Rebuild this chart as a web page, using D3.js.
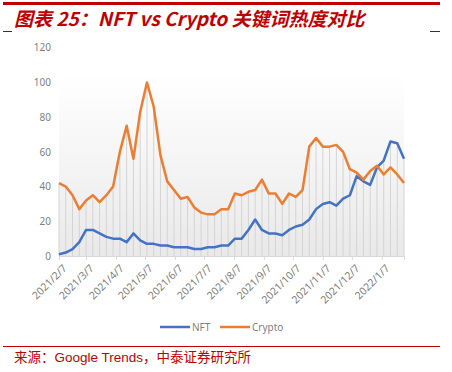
<!DOCTYPE html>
<html><head><meta charset="utf-8">
<script src="https://cdn.jsdelivr.net/npm/d3@7"></script>
<style>
html,body{margin:0;padding:0;background:#fff;}
svg{display:block;}
</style></head>
<body>
<svg id="chart" width="452" height="372"></svg>
<script>
const titleText = "图表 25：NFT vs Crypto 关键词热度对比";
const sourceText = "来源：Google Trends，中泰证券研究所";
const startDate = "2021-02-07";
const weeks = 52;
const nft = [1,2,4,8,15,15,13,11,10,10,8,13,9,7,7,6,6,5,5,5,4,4,5,5,6,6,10,10,15,21,15,13,13,12,15,17,18,21,27,30,31,29,33,35,46,43,41,51,55,66,65,56];
const crypto = [42,40,35,27,32,35,31,35,40,60,75,56,83,100,86,58,43,38,33,34,28,25,24,24,27,27,36,35,37,38,44,36,36,30,36,34,38,63,68,63,63,64,60,50,48,44,49,52,47,51,47,42];
const yTicks = [0,20,40,60,80,100,120];
const xTickDates = ["2021-02-07","2021-03-07","2021-04-07","2021-05-07","2021-06-07","2021-07-07","2021-08-07","2021-09-07","2021-10-07","2021-11-07","2021-12-07","2022-01-07"];
const seriesNames = ["NFT","Crypto"];
const colors = ["#4472c4","#ed7d31"];

const parse = d3.utcParse("%Y-%m-%d");
const d0 = parse(startDate);
const dates = d3.range(weeks).map(i => d3.utcDay.offset(d0, i*7));
const svg = d3.select("#chart");

const x = d3.scaleUtc().domain([dates[0], dates[dates.length-1]]).range([59, 404]);
const y = d3.scaleLinear().domain([0,120]).range([256, 47.7]);

// top red bar
svg.append("rect").attr("x",3).attr("y",2).attr("width",437).attr("height",3).attr("fill","#c00000");
svg.append("line").attr("x1",3).attr("x2",12).attr("y1",31.5).attr("y2",31.5).attr("stroke","#333").attr("stroke-width",1);
svg.append("line").attr("x1",430).attr("x2",440).attr("y1",31.5).attr("y2",31.5).attr("stroke","#333").attr("stroke-width",1);
svg.append("text").attr("x",14).attr("y",26).text(titleText)
  .attr("font-family","'Noto Sans CJK SC', 'Liberation Sans', sans-serif")
  .attr("font-weight","bold").attr("font-style","italic").attr("font-size",19)
  .attr("fill","#c00000");

// gradient bg
const defs = svg.append("defs");
const g = defs.append("linearGradient").attr("id","bg").attr("x1",0).attr("y1",0).attr("x2",0).attr("y2",1);
g.append("stop").attr("offset","0%").attr("stop-color","#ffffff");
g.append("stop").attr("offset","100%").attr("stop-color","#e9e9e9");
svg.append("rect").attr("x",x(dates[0])).attr("y",75).attr("width",x(dates[dates.length-1])-x(dates[0])).attr("height",y(0)-75).attr("fill","url(#bg)");

// drop lines
svg.append("g").selectAll("line").data(dates).join("line")
  .attr("x1",d=>x(d)).attr("x2",d=>x(d))
  .attr("y1",(d,i)=>y(Math.max(nft[i],crypto[i]))).attr("y2",y(0))
  .attr("stroke","#d4d4d4").attr("stroke-width",1);

// y axis labels
const yAxis = svg.append("g").attr("transform","translate(51,0)")
  .call(d3.axisLeft(y).tickValues(yTicks).tickSize(0).tickPadding(0));
yAxis.select(".domain").remove();
yAxis.selectAll("text").attr("font-family","'Noto Sans', 'DejaVu Sans', sans-serif").attr("font-size",10).attr("fill","#7f7f7f");

// x axis
const xAxis = svg.append("g").attr("transform",`translate(0,${y(0)})`)
  .call(d3.axisBottom(x).tickValues(xTickDates.map(parse)).tickSize(4).tickFormat(d3.utcFormat("%Y/%-m/%-d")));
xAxis.select(".domain").attr("stroke","#d9d9d9");
xAxis.selectAll(".tick line").attr("stroke","#d9d9d9");
xAxis.selectAll("text").attr("font-family","'Noto Sans', 'DejaVu Sans', sans-serif").attr("font-size",10.5).attr("fill","#7f7f7f")
  .attr("text-anchor","end").attr("dy",0).attr("dx",0)
  .attr("transform","translate(3,8) rotate(-45)");

// lines
const line = d3.line().x((d,i)=>x(dates[i])).y(d=>y(d));
[nft,crypto].forEach((s,k)=>{
  svg.append("path").datum(s).attr("d",line).attr("fill","none")
    .attr("stroke",colors[k]).attr("stroke-width",2.5).attr("stroke-linejoin","round");
});

// legend
const legX = [160,220];
seriesNames.forEach((n,k)=>{
  svg.append("line").attr("x1",legX[k]).attr("x2",legX[k]+30).attr("y1",327).attr("y2",327).attr("stroke",colors[k]).attr("stroke-width",2.5);
  svg.append("text").attr("x",legX[k]+32).attr("y",330.5).text(n)
    .attr("font-family","'Noto Sans', 'DejaVu Sans', sans-serif").attr("font-size",10).attr("fill","#7f7f7f");
});

// source
svg.append("line").attr("x1",3).attr("x2",440).attr("y1",346.5).attr("y2",346.5).attr("stroke","#c00000").attr("stroke-width",1.2);
svg.append("text").attr("x",14).attr("y",362).text(sourceText)
  .attr("font-family","'Liberation Sans', 'Noto Sans CJK SC', sans-serif").attr("font-size",13.5).attr("fill","#c00000");
</script>
</body></html>
